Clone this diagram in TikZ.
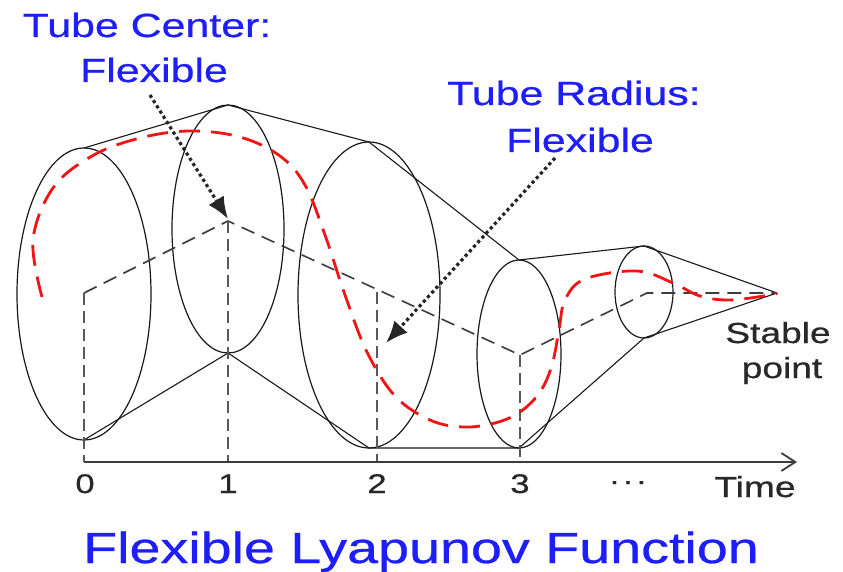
\documentclass[tikz,border=0pt]{standalone}
\usepackage{fontspec}
\newfontfamily\labfont[FakeStretch=1.28,FakeBold=0.6]{Liberation Sans}
\usetikzlibrary{arrows.meta}
\definecolor{lblue}{RGB}{30,30,250}
\definecolor{lred}{RGB}{240,20,20}
\definecolor{dgray}{RGB}{60,60,60}
\definecolor{tgray}{RGB}{40,40,40}
\begin{document}
\begin{tikzpicture}[x=1pt,y=-1pt,
  tube/.style={draw=black!90, line width=1.2pt},
  env/.style={draw=black!90, line width=1.1pt},
  ctr/.style={draw=dgray, line width=1.6pt, dash pattern=on 14pt off 8pt},
  vdash/.style={draw=dgray!85, line width=2pt, dash pattern=on 12pt off 6pt},
  traj/.style={draw=lred, line width=2.8pt, dash pattern=on 21pt off 11pt},
  hint/.style={draw=black!85, line width=3.2pt, dash pattern=on 3.2pt off 3pt, -{Latex[length=22pt,width=18pt]}},
  axisline/.style={draw=dgray, line width=1.8pt, -{Straight Barb[length=14pt,width=18pt]}},
  bluetxt/.style={text=lblue, font=\labfont\fontsize{33.5}{40}\selectfont, inner sep=0pt, anchor=base},
  ticktxt/.style={text=tgray, font=\labfont\fontsize{27}{32}\selectfont, inner sep=0pt, anchor=base},
  sidetxt/.style={text=tgray, font=\labfont\fontsize{29}{35}\selectfont, inner sep=0pt, anchor=base},
  titletxt/.style={text=lblue, font=\labfont\fontsize{43.5}{50}\selectfont, inner sep=0pt, anchor=base}
]
\useasboundingbox (0,0) rectangle (843,572);
\fill[white] (0,0) rectangle (843,572);

% ellipse centres, tops and bottoms
\coordinate (E0) at (84,294);  \coordinate (T0) at (84,148);  \coordinate (B0) at (84,440);
\coordinate (E1) at (228,229); \coordinate (T1) at (228,105); \coordinate (B1) at (228,353);
\coordinate (E2) at (369,295); \coordinate (T2) at (369,142); \coordinate (B2) at (369,448);
\coordinate (E3) at (519,354); \coordinate (T3) at (519,260); \coordinate (B3) at (519,448);
\coordinate (E4) at (644,292); \coordinate (T4) at (644,246); \coordinate (B4) at (644,338);
\coordinate (S) at (777,293);

% tube cross-sections
\draw[tube] (E0) ellipse [x radius=67pt, y radius=146pt];
\draw[tube] (E1) ellipse [x radius=56pt, y radius=124pt];
\draw[tube] (E2) ellipse [x radius=71pt, y radius=153pt];
\draw[tube] (E3) ellipse [x radius=42pt, y radius=94pt];
\draw[tube] (E4) ellipse [x radius=29pt, y radius=46pt];

% envelope
\draw[env] (T0) -- (T1) -- (T2) -- (T3) -- (T4) -- (S);
\draw[env] (B0) -- (B1) -- (B2) -- (B3) -- (B4) -- (S);

% tube centre line
\coordinate (C0) at (84,293);
\coordinate (C1) at (228,221);
\coordinate (C3) at (520,355);
\coordinate (C2) at (377,292);
\coordinate (C4) at (647,293);
\draw[ctr] (C0) -- (C1) -- (C3) -- (C4) -- (S);

% time axis
\coordinate (X0) at (84,462);
\coordinate (X1) at (228,462);
\coordinate (X2) at (377,462);
\coordinate (X3) at (520,462);
\coordinate (XE) at (797,462);
\draw[vdash] (C0) -- (X0);
\draw[vdash] (C1) -- (X1);
\draw[vdash] (C2) -- (X2);
\draw[vdash] (C3) -- (X3);
\draw[axisline] (X0) -- (XE);

% trajectory
\draw[traj] plot[smooth, tension=0.6] coordinates {(42,297) (33,240) (53,188) (92,156) (140,138) (190,131) (240,137) (280,156) (305,185) (325,235) (345,295) (367,352) (395,396) (430,420) (463,427) (495,423) (520,412) (540,392) (552,365) (559,330) (565,300) (585,279) (637,271) (673,283) (700,296) (730,300) (770,295) (777,293)};

% hint arrows
\coordinate (H1) at (150,95);
\coordinate (H2) at (555,158);
\coordinate (A1) at (228,219);
\coordinate (A2) at (386,343);
\draw[hint] (H1) -- (A1);
\draw[hint] (H2) -- (A2);

% labels
\node[bluetxt] (lc1) at (147,37) {Tube Center:};
\node[bluetxt] (lc2) at (154,82) {Flexible};
\node[bluetxt] (lr1) at (574,105) {Tube Radius:};
\node[bluetxt] (lr2) at (580,152) {Flexible};
\node[ticktxt] (t0) at (85,493) {0};
\node[ticktxt] (t1) at (228,493) {1};
\node[ticktxt] (t2) at (377,493) {2};
\node[ticktxt] (t3) at (520,493) {3};
\node[ticktxt] (tdots) at (628,490) {·\kern2pt·\kern2pt·};
\node[sidetxt] (ttime) at (755,497) {Time};
\node[sidetxt] (st1) at (778,343) {Stable};
\node[sidetxt] (st2) at (782,378) {point};
\node[titletxt] (title) at (421,563) {Flexible Lyapunov Function};
\end{tikzpicture}
\end{document}
